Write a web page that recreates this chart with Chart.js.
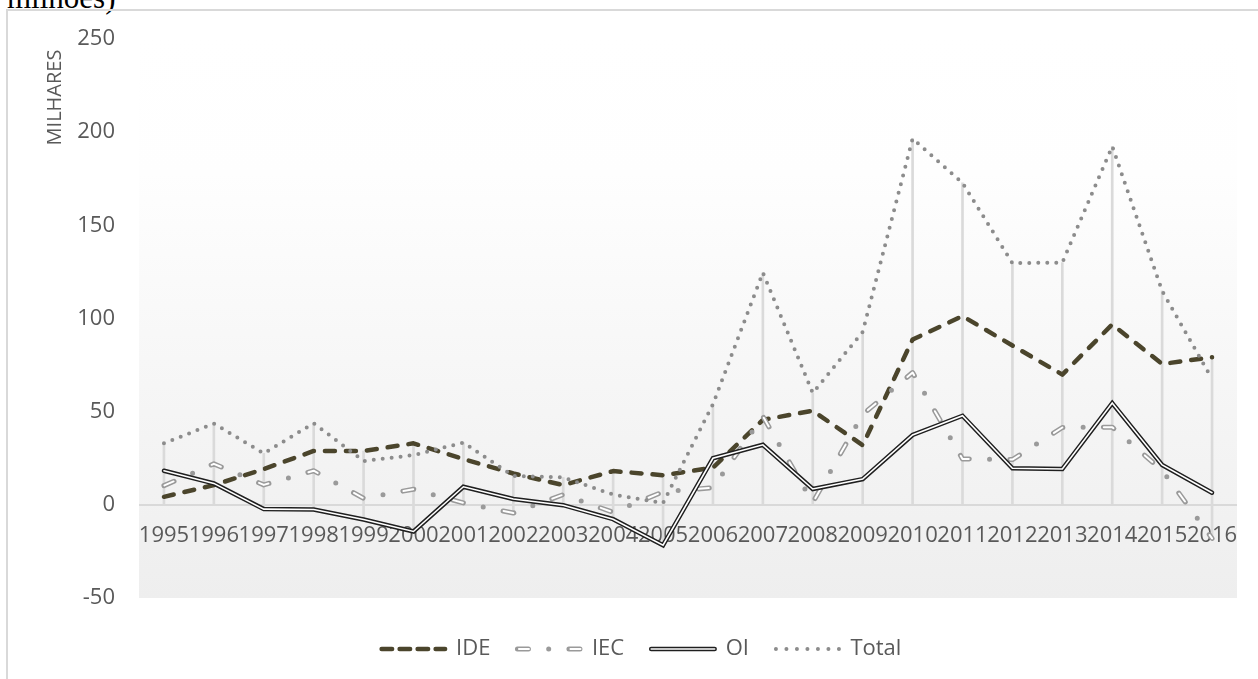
<!DOCTYPE html>
<html>
<head>
<meta charset="utf-8">
<script src="https://cdn.jsdelivr.net/npm/chart.js@4.4.1/dist/chart.umd.min.js"></script>
<style>
  html, body { margin: 0; padding: 0; width: 1258px; height: 679px; overflow: hidden; background: #ffffff; }
  #caption { position: absolute; left: 7px; top: -18px; font-family: 'Liberation Serif', 'Times New Roman', serif;
             font-size: 31px; line-height: 31px; color: #000; white-space: nowrap; }
  #frame { position: absolute; left: 6px; top: 9px; width: 1400px; height: 800px;
           border: 2px solid #d9d9d9; box-sizing: border-box; }
  #c { position: absolute; left: 0; top: 0; }
</style>
</head>
<body>
<div id="caption">milhões)</div>
<div id="frame"></div>
<canvas id="c" width="1258" height="679"></canvas>
<script>
// Anos (eixo das categorias)
const years = ['1995','1996','1997','1998','1999','2000','2001','2002','2003','2004','2005',
               '2006','2007','2008','2009','2010','2011','2012','2013','2014','2015','2016'];

// Séries, em milhares
const ide   = [4.3, 10.6, 19.2, 28.9, 28.9, 33.0, 24.6, 16.8, 10.6, 18.1, 15.9,
               19.9, 45.6, 50.5, 32.0, 88.7, 101.3, 85.5, 69.9, 96.8, 75.6, 79.2];
const iec   = [10.3, 22.0, 10.7, 18.3, 3.5, 8.4, 1.0, -4.4, 5.5, -4.0, 7.0,
               9.2, 47.5, 1.2, 48.5, 71.0, 24.6, 24.3, 41.5, 41.7, 18.5, -18.0];
const oi    = [18.3, 11.5, -2.3, -2.5, -7.9, -14.3, 9.7, 3.1, -0.2, -7.7, -21.7,
               25.0, 32.2, 8.5, 13.8, 37.5, 47.8, 19.6, 19.2, 54.6, 21.4, 6.5];
const total = [33.0, 43.6, 27.6, 43.8, 23.5, 26.7, 33.4, 15.5, 14.7, 5.5, 1.0,
               54.0, 124.6, 60.0, 92.8, 196.5, 172.8, 129.7, 130.0, 192.4, 114.8, 67.5];

// Marcas do eixo vertical
const yTicks = [-50, 0, 50, 100, 150, 200, 250];

const seriesNames = ['IDE', 'IEC', 'OI', 'Total'];
const axisTitle = 'MILHARES';

// Linhas de projeção: de cada ano até ao eixo, cobrindo todas as séries
const dropLines = years.map((_, i) => [
  Math.min(0, ide[i], iec[i], oi[i], total[i]),
  Math.max(0, ide[i], iec[i], oi[i], total[i])
]);

const FONT = "'Open Sans', sans-serif";
const TEXT_COLOR = '#595959';
const LEGEND_SAMPLE = 63.5;

// Fundo da área de desenho em gradiente
const plotBackground = {
  id: 'plotBackground',
  beforeDraw(chart) {
    const { ctx, chartArea: a } = chart;
    const g = ctx.createLinearGradient(0, a.top, 0, a.bottom);
    g.addColorStop(0, '#ffffff');
    g.addColorStop(0.24, '#fefefe');
    g.addColorStop(1, '#eeeeee');
    ctx.save();
    ctx.fillStyle = g;
    ctx.fillRect(a.left, a.top, a.right - a.left, a.bottom - a.top);
    ctx.restore();
  }
};

// Título do eixo vertical, junto ao topo
const axisTitlePlugin = {
  id: 'axisTitlePlugin',
  afterDraw(chart) {
    const ctx = chart.ctx;
    ctx.save();
    ctx.translate(55.5, 97.5);
    ctx.rotate(-Math.PI / 2);
    ctx.font = '20px ' + FONT;
    ctx.fillStyle = TEXT_COLOR;
    ctx.textAlign = 'center';
    ctx.textBaseline = 'middle';
    ctx.fillText(axisTitle, 0, 0);
    ctx.restore();
  }
};

// Legenda: posição vertical e traço interior branco das linhas duplas
const legendTweaks = {
  id: 'legendTweaks',
  afterLayout(chart) {
    const L = chart.legend;
    if (!L) return;
    const dy = 611 - L.top;
    L.top += dy;
    L.bottom += dy;
  },
  afterDraw(chart) {
    const L = chart.legend;
    if (!L || !L.legendHitBoxes) return;
    const ctx = chart.ctx;
    L.legendItems.forEach((item, k) => {
      const hb = L.legendHitBoxes[k];
      if (!hb) return;
      const ds = chart.data.datasets[item.datasetIndex];
      if (!ds.inner) return;
      const inner = chart.data.datasets[ds.inner];
      const cy = hb.top + hb.height / 2;
      ctx.save();
      ctx.strokeStyle = inner.borderColor;
      ctx.lineWidth = inner.borderWidth;
      ctx.lineCap = 'round';
      ctx.setLineDash(inner.borderDash || []);
      ctx.lineDashOffset = inner.borderDashOffset || 0;
      ctx.beginPath();
      ctx.moveTo(hb.left + LEGEND_SAMPLE, cy);
      ctx.lineTo(hb.left, cy);
      ctx.stroke();
      ctx.restore();
    });
  }
};

new Chart(document.getElementById('c'), {
  type: 'line',
  data: {
    labels: years,
    datasets: [
      { label: seriesNames[0], data: ide, borderColor: '#4b452c', borderWidth: 4.5,
        borderDash: [10, 11], legendDash: [10.5, 7.5], borderCapStyle: 'round', borderJoinStyle: 'round',
        pointRadius: 0, tension: 0, order: 6 },
      { label: seriesNames[1], data: iec, borderColor: '#9a9a9a', borderWidth: 5,
        borderDash: [11, 20.25, 0, 20.25], borderCapStyle: 'round', borderJoinStyle: 'round',
        pointRadius: 0, tension: 0, order: 5, inner: 2 },
      { label: '', data: iec, borderColor: '#ffffff', borderWidth: 2,
        borderDash: [10, 41.5], borderDashOffset: -0.5, borderCapStyle: 'round', borderJoinStyle: 'round',
        pointRadius: 0, tension: 0, order: 4 },
      { label: seriesNames[2], data: oi, borderColor: '#1f1f1f', borderWidth: 4.5,
        borderCapStyle: 'round', borderJoinStyle: 'miter',
        pointRadius: 0, tension: 0, order: 3, inner: 4 },
      { label: '', data: oi, borderColor: '#ffffff', borderWidth: 1.6,
        borderCapStyle: 'round', borderJoinStyle: 'miter',
        pointRadius: 0, tension: 0, order: 2 },
      { label: seriesNames[3], data: total, borderColor: '#8c8c8c', borderWidth: 4,
        borderDash: [0, 9], legendDash: [0, 10.5], borderCapStyle: 'round', borderJoinStyle: 'round',
        pointRadius: 0, tension: 0, order: 1 },
      { type: 'bar', label: '', data: dropLines, backgroundColor: '#dadada', borderWidth: 0,
        barThickness: 2, borderSkipped: false, order: 7 }
    ]
  },
  options: {
    responsive: false,
    animation: false,
    devicePixelRatio: 1,
    layout: { padding: { left: 46, right: 21, top: 39, bottom: 22 } },
    scales: {
      x: {
        type: 'category',
        position: { y: 0 },
        offset: true,
        grid: { display: false, drawTicks: false },
        border: { display: false },
        ticks: { autoSkip: false, maxRotation: 0, minRotation: 0, padding: 18,
                 color: TEXT_COLOR, font: { family: FONT, size: 22 } }
      },
      y: {
        min: -50, max: 250,
        afterBuildTicks: (s) => { s.ticks = yTicks.map(v => ({ value: v })); },
        afterFit: (s) => { s.width = 93; },
        grid: { drawTicks: false, lineWidth: 2,
                color: (c) => (c.tick && c.tick.value === 0) ? '#d9d9d9' : 'rgba(0,0,0,0)' },
        border: { display: false },
        ticks: { padding: 24, color: TEXT_COLOR, font: { family: FONT, size: 22 } }
      }
    },
    plugins: {
      tooltip: { enabled: false },
      legend: {
        position: 'bottom',
        maxHeight: 60,
        labels: {
          usePointStyle: true,
          pointStyle: 'line',
          pointStyleWidth: LEGEND_SAMPLE,
          padding: 27,
          color: TEXT_COLOR,
          font: { family: FONT, size: 22 },
          generateLabels(chart) {
            return [0, 1, 3, 5].map(i => {
              const ds = chart.data.datasets[i];
              return {
                text: ds.label, datasetIndex: i, hidden: false,
                strokeStyle: ds.borderColor, fillStyle: 'rgba(0,0,0,0)',
                lineWidth: ds.borderWidth, lineDash: ds.legendDash || ds.borderDash || [],
                lineDashOffset: 0, lineCap: 'round', lineJoin: 'round',
                pointStyle: 'line', fontColor: TEXT_COLOR
              };
            });
          }
        }
      }
    }
  },
  plugins: [plotBackground, axisTitlePlugin, legendTweaks]
});
</script>
</body>
</html>
